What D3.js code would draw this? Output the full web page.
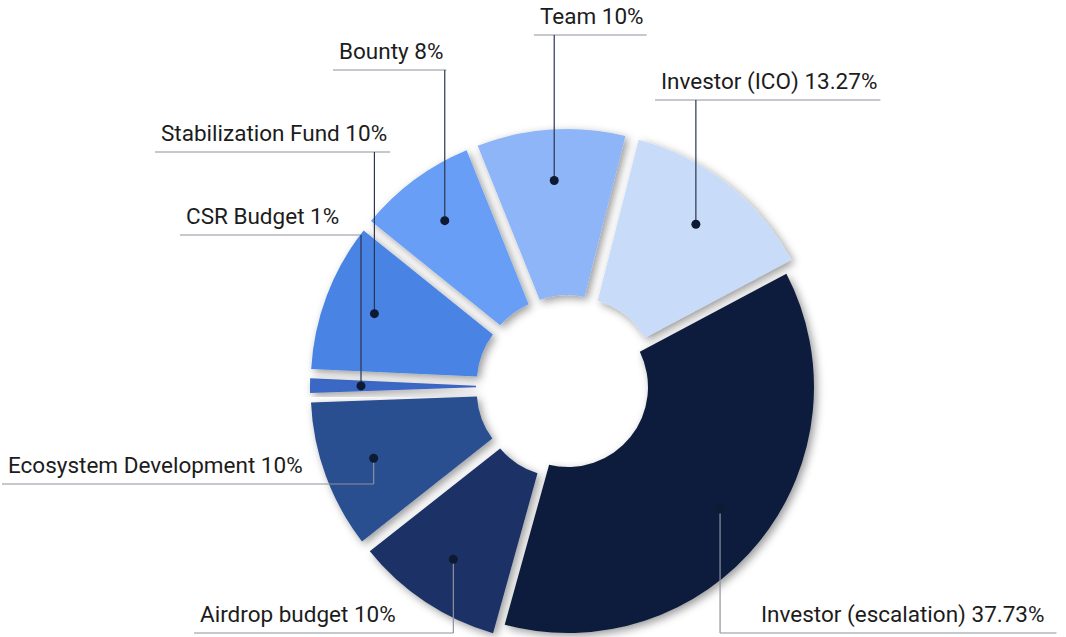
<!DOCTYPE html>
<html>
<head>
<meta charset="utf-8">
<script src="https://cdn.jsdelivr.net/npm/d3@7"></script>
<style>
  body { margin: 0; background: #fff; }
  .label { font-family: Roboto, "Noto Sans", sans-serif; font-size: 22.5px; fill: #1c1c1c; }
</style>
</head>
<body>
<div id="chart"></div>
<script>
// token allocation, clockwise from the big slice
var categories = ["Investor (escalation)", "Airdrop budget", "Ecosystem Development", "CSR Budget",
                  "Stabilization Fund", "Bounty", "Team", "Investor (ICO)"];
var shares = [37.73, 10, 10, 1, 10, 8, 10, 13.27];
var shareLabels = ["37.73%", "10%", "10%", "1%", "10%", "8%", "10%", "13.27%"];
var colors = ["#111f3c", "#1b3266", "#2b4f91", "#3a67c4", "#4a84e4", "#679ef5", "#8db5f8", "#c8dcfa"];

var svgWidth = 1066;
var svgHeight = 637;
var cx = 568, cy = 387;
var innerR = 80, outerR = 246;
var explode = 12;

// where each label text starts (x) and its baseline (y)
var labelSpots = [[761, 622], [200, 622], [8, 473], [186, 224], [161, 141], [339, 59], [540, 24], [661, 89]];

var svg = d3.select("#chart")
  .append("svg")
  .attr("width", svgWidth)
  .attr("height", svgHeight);

var defs = svg.append("defs");
var shadow = defs.append("filter")
  .attr("id", "shadow")
  .attr("x", "-20%").attr("y", "-20%")
  .attr("width", "140%").attr("height", "140%");
shadow.append("feDropShadow")
  .attr("dx", 3).attr("dy", 3)
  .attr("stdDeviation", 4.5)
  .attr("flood-color", "#000")
  .attr("flood-opacity", 0.4);

var deg = Math.PI / 180;
var pie = d3.pie()
  .sort(null)
  .startAngle(62 * deg)
  .endAngle(422 * deg)
  .padAngle(0.02)
  .value(d => d);

var arcs = pie(shares);

var arc = d3.arc()
  .innerRadius(innerR)
  .outerRadius(outerR);

var dotArc = d3.arc()
  .innerRadius(195)
  .outerRadius(195);

function offset(d) {
  var k = d.index === 0 ? 0 : explode;
  var mid = (d.startAngle + d.endAngle) / 2;
  return [Math.sin(mid) * k, -Math.cos(mid) * k];
}

var chartGroup = svg.append("g")
  .attr("transform", `translate(${cx}, ${cy})`);

chartGroup.selectAll("path.slice")
  .data(arcs)
  .enter()
  .append("path")
  .attr("class", "slice")
  .attr("d", arc)
  .attr("fill", (d, i) => colors[i])
  .attr("filter", "url(#shadow)")
  .attr("transform", d => `translate(${offset(d)[0]}, ${offset(d)[1]})`);

// labels + leader lines
var labelGroup = svg.append("g");

arcs.forEach(function(d, i) {
  var o = offset(d);
  var c = dotArc.centroid(d);
  var dotX = cx + c[0] + o[0];
  var dotY = cy + c[1] + o[1];

  var spot = labelSpots[i];
  var txt = labelGroup.append("text")
    .attr("class", "label")
    .attr("x", spot[0])
    .attr("y", spot[1])
    .text(categories[i] + " " + shareLabels[i]);
  var w = txt.node().getComputedTextLength();

  var lineY = spot[1] + 11;
  var x1 = Math.min(spot[0] - 6, dotX);
  var x2 = Math.max(spot[0] + w + 3, dotX);
  if (i === 0) x2 = spot[0] + w + 12;

  labelGroup.append("line")
    .attr("x1", x1).attr("y1", lineY)
    .attr("x2", x2).attr("y2", lineY)
    .attr("stroke", "#8d929c")
    .attr("stroke-width", 1.2);

  labelGroup.append("line")
    .attr("x1", dotX).attr("y1", lineY)
    .attr("x2", dotX).attr("y2", dotY)
    .attr("stroke", i < 3 ? "#8d929c" : "#2a3550")
    .attr("stroke-width", 1.2);

  labelGroup.append("circle")
    .attr("cx", dotX)
    .attr("cy", dotY)
    .attr("r", 4.5)
    .attr("fill", "#0e1a33");
});
</script>
</body>
</html>
